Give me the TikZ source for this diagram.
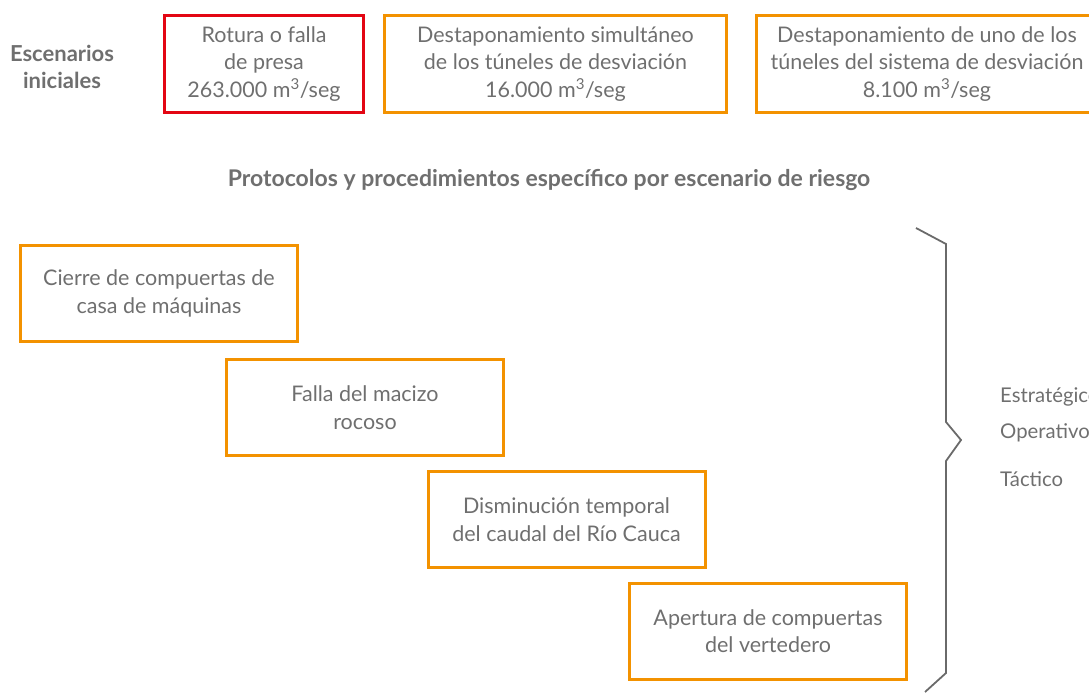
\documentclass[tikz,border=0pt]{standalone}
\usepackage{fontspec}
\setmainfont{Lato}
\definecolor{org}{HTML}{F39200}
\definecolor{rd}{HTML}{E30613}
\definecolor{txt}{HTML}{6F6F6F}
\definecolor{brc}{HTML}{6A6A6A}
\begin{document}
\begin{tikzpicture}[x=1pt,y=-1pt,
  box/.style={draw=org,line width=3pt,inner sep=0pt,align=center,text=txt,
    font=\fontsize{21.5}{27.5}\selectfont,minimum width=277pt,minimum height=96pt},
  redbox/.style={box,draw=rd},
  head/.style={text=txt,font=\bfseries\fontsize{22}{27}\selectfont,align=center,inner sep=0pt},
  lbl/.style={text=txt,font=\fontsize{20.3}{24}\selectfont,anchor=base west,inner sep=0pt}]
\useasboundingbox (0,0) rectangle (1089,693);
\node[head] (esc) at (62,67) {Escenarios\\iniciales};
\node[redbox,minimum width=199pt,minimum height=97pt] (s1) at (264,64) {Rotura o falla\\de presa\\263.000 m\textsuperscript{3}/seg};
\node[box,minimum width=342pt,minimum height=97pt] (s2) at (555.5,64) {Destaponamiento simultáneo\\de los túneles de desviación\\16.000 m\textsuperscript{3}/seg};
\node[box,minimum width=341pt,minimum height=97pt] (s3) at (927,64) {Destaponamiento de uno de los\\túneles del sistema de desviación\\8.100 m\textsuperscript{3}/seg};
\node[head,font=\bfseries\fontsize{23}{27}\selectfont,anchor=base] (prot) at (549,186) {Protocolos y procedimientos específico por escenario de riesgo};
\node[box] (a) at (159,293.5) {Cierre de compuertas de\\casa de máquinas};
\node[box] (b) at (365,407.5) {Falla del macizo\\rocoso};
\node[box] (c) at (566.5,519.5) {Disminución temporal\\del caudal del Río Cauca};
\node[box] (d) at (768,631) {Apertura de compuertas\\del vertedero};
\draw[brc,line width=1.8pt,line join=miter] (916,228) -- (946,244) -- (946,422) -- (961,440) -- (946,461) -- (946,673) -- (925,692);
\node[lbl] (l1) at (1000,402) {Estratégico};
\node[lbl] (l2) at (1000,438) {Operativo};
\node[lbl] (l3) at (1000,486) {Táctico};
\end{tikzpicture}
\end{document}
